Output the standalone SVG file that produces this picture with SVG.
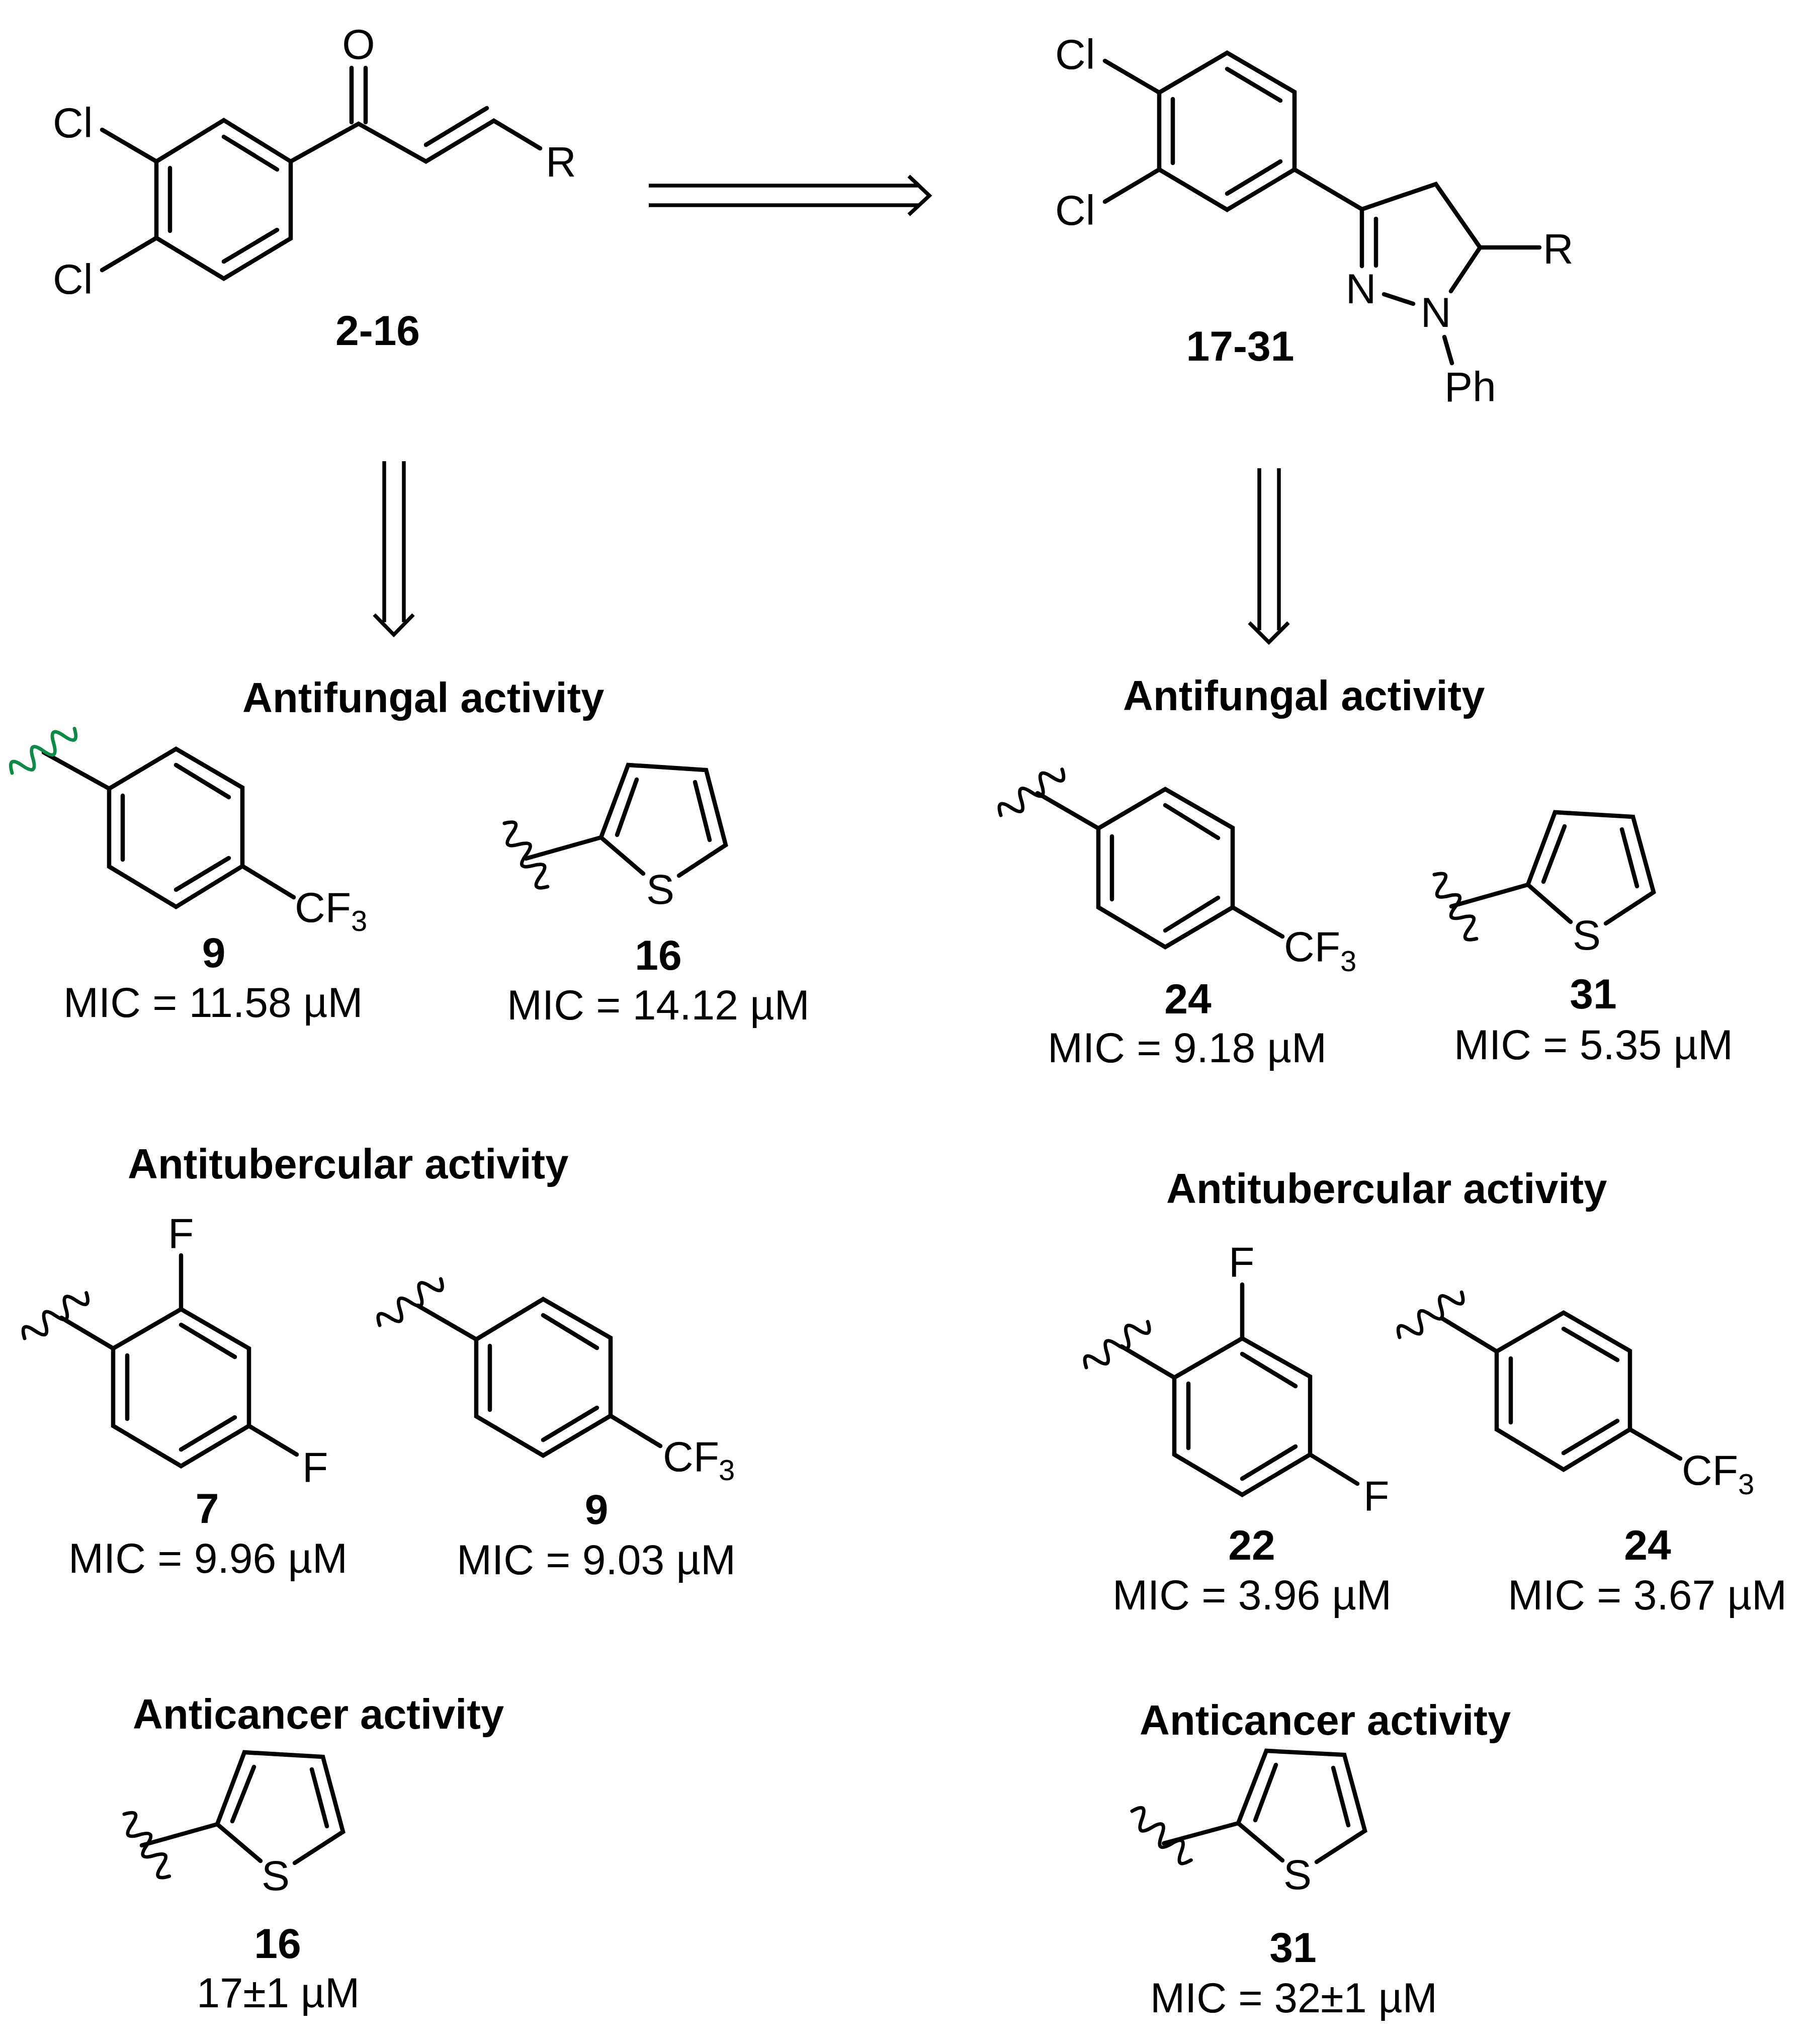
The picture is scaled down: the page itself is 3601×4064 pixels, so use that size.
<svg xmlns="http://www.w3.org/2000/svg" xmlns:xlink="http://www.w3.org/1999/xlink" width="3601" height="4064" viewBox="0 0 3601 4064">
<style>
text{font-family:"Liberation Sans",Arial,sans-serif;font-size:84px;fill:#000}
.h,.n{font-weight:bold}
.h{font-size:83px}
.n,.c{text-anchor:middle}
.s{font-size:58px}
.p{font-size:83px}
.b{fill:none;stroke:#000;stroke-width:8.5;stroke-linecap:round;stroke-linejoin:miter}
.a{fill:none;stroke:#000;stroke-width:7.5;stroke-linecap:butt;stroke-linejoin:miter}
.w{fill:none;stroke:#000;stroke-width:7;stroke-linecap:round}
.g{stroke:#0f8a46}
</style>
<defs>
<path id="wave" d="M0,0 q12.7,-36 25.4,0 t25.4,0 t25.4,0 t25.4,0 t25.4,0 t25.4,0"/>
</defs>
<rect width="3601" height="4064" fill="#fff"/>
<g id="connectors">
<path class="a" d="M1290,369H1829M1290,408H1829M1807,350L1848,389L1807,427"/>
<path class="a" d="M764,917V1237M803,917V1237M744,1222L783,1262L822,1222"/>
<path class="a" d="M2504,931V1253M2543,931V1253M2484,1238L2523,1277L2562,1238"/>
</g>
<g id="compound-2-16">
<path class="b" d="M311,321L445,239L578,321V474L445,554L311,473ZM338,334V459M445,272L551,337M445,520L551,457M203,258L311,321M203,537L311,473M578,321L713,246L847,321L982,240L1074,295M847,288L968,215M699,135V243M727,135V243"/>
<text x="105" y="273">Cl</text><text x="105" y="584">Cl</text>
<text class="c" x="713" y="117">O</text><text x="1085" y="351">R</text>
<text class="n" x="751" y="686">2-16</text>
</g>
<g id="compound-17-31">
<path class="b" d="M2305,184L2440,105L2574,183V337L2440,417L2305,337ZM2332,197V324M2440,137L2546,200M2440,385L2546,321M2197,121L2305,184M2197,401L2305,337M2574,337L2708,416L2855,366L2943,492L2885,579M2708,416V529M2736,435V528M2752,585L2810,604M2872,670L2887,722M2943,492H3061"/>
<text x="2098" y="137">Cl</text><text x="2098" y="447">Cl</text>
<text class="c" x="2706" y="603">N</text><text class="c" x="2855" y="650">N</text>
<text x="2872" y="798">Ph</text><text x="3068" y="524">R</text>
<text class="n" x="2466" y="717">17-31</text>
</g>
<g id="fungal-left">
<text class="h" x="482" y="1416">Antifungal activity</text>
<g id="fungal-9">
<path class="b" d="M217,1568L350,1489L482,1566V1722L350,1803L217,1723ZM244,1582V1709M350,1521L455,1585M350,1769L455,1706M217,1568L87,1496M482,1722L584,1784"/>
<use href="#wave" class="w g" transform="translate(24,1537) rotate(-35.5)"/>
<text x="586" y="1833">CF</text><text class="s" x="698" y="1851">3</text>
<text class="n" x="425" y="1923">9</text>
<text x="126" y="2022">MIC = 11.58 µM</text>
</g>
<g id="fungal-16">
<path class="b" d="M1279,1737L1195,1665L1249,1521L1404,1531L1443,1680L1350,1741M1227,1660L1266,1550M1411,1670L1382,1555M1195,1665L1046,1707"/>
<use href="#wave" class="w" transform="translate(1003,1637) rotate(55.7)"/>
<text class="c" x="1313" y="1797">S</text>
<text class="n" x="1309" y="1928">16</text>
<text x="1008" y="2027">MIC = 14.12 µM</text>
</g>
</g>
<g id="fungal-right">
<text class="h" x="2233" y="1412">Antifungal activity</text>
<g id="fungal-24">
<path class="b" d="M2184,1647L2317,1569L2451,1646V1804L2317,1883L2184,1804ZM2211,1663V1788M2317,1601L2422,1666M2317,1850L2422,1785M2184,1647L2063,1577M2451,1804L2550,1862"/>
<use href="#wave" class="w" transform="translate(1990,1621) rotate(-36.9)"/>
<text x="2553" y="1911">CF</text><text class="s" x="2665" y="1931">3</text>
<text class="n" x="2362" y="2015">24</text>
<text x="2083" y="2112">MIC = 9.18 µM</text>
</g>
<g id="fungal-31">
<path class="b" d="M3123,1833L3038,1759L3092,1615L3247,1624L3288,1774L3193,1836M3069,1753L3111,1643M3255,1762L3225,1649M3038,1759L2886,1802"/>
<use href="#wave" class="w" transform="translate(2852,1739) rotate(56.6)"/>
<text class="c" x="3155" y="1888">S</text>
<text class="n" x="3168" y="2005">31</text>
<text x="2891" y="2106">MIC = 5.35 µM</text>
</g>
</g>
<g id="tuber-left">
<text class="h" x="254" y="2343">Antitubercular activity</text>
<g id="tuber-7">
<path class="b" d="M225,2681L360,2603L495,2681V2835L360,2915L225,2835ZM253,2695V2821M360,2634L467,2698M360,2882L467,2818M360,2603V2496M495,2835L590,2892M225,2681L122,2620"/>
<use href="#wave" class="w" transform="translate(49,2661) rotate(-36.4)"/>
<text x="334" y="2481">F</text><text x="601" y="2946">F</text>
<text class="n" x="412" y="3028">7</text>
<text x="136" y="3127">MIC = 9.96 µM</text>
</g>
<g id="tuber-9">
<path class="b" d="M947,2663L1080,2583L1214,2660V2815L1080,2894L947,2816ZM974,2676V2803M1080,2615L1187,2680M1080,2863L1187,2799M947,2663L831,2596M1214,2815L1313,2875"/>
<use href="#wave" class="w" transform="translate(755,2635) rotate(-37.2)"/>
<text x="1318" y="2925">CF</text><text class="s" x="1429" y="2943">3</text>
<text class="n" x="1186" y="3030">9</text>
<text x="908" y="3130">MIC = 9.03 µM</text>
</g>
</g>
<g id="tuber-right">
<text class="h" x="2319" y="2392">Antitubercular activity</text>
<g id="tuber-22">
<path class="b" d="M2335,2739L2470,2661L2605,2737V2892L2470,2972L2335,2892ZM2363,2751V2879M2470,2692L2576,2756M2470,2940L2576,2876M2470,2661V2554M2605,2892L2699,2950M2335,2739L2230,2677"/>
<use href="#wave" class="w" transform="translate(2160,2719) rotate(-36.7)"/>
<text x="2443" y="2538">F</text><text x="2711" y="3003">F</text>
<text class="n" x="2489" y="3101">22</text>
<text x="2212" y="3200">MIC = 3.96 µM</text>
</g>
<g id="tuber-24">
<path class="b" d="M2976,2687L3109,2610L3241,2686V2842L3109,2922L2976,2842ZM3004,2701V2828M3109,2642L3216,2704M3109,2889L3216,2825M2976,2687L2867,2621M3241,2842L3341,2900"/>
<use href="#wave" class="w" transform="translate(2783,2659) rotate(-36)"/>
<text x="3344" y="2952">CF</text><text class="s" x="3456" y="2971">3</text>
<text class="n" x="3276" y="3101">24</text>
<text x="2998" y="3200">MIC = 3.67 µM</text>
</g>
</g>
<g id="cancer-left">
<text class="h" x="264" y="3437">Anticancer activity</text>
<path class="b" d="M518,3700L432,3627L486,3484L642,3493L682,3642L586,3704M462,3621L505,3513M650,3631L620,3518M432,3627L282,3669"/>
<use href="#wave" class="w" transform="translate(247,3607) rotate(54)"/>
<text class="c" x="548" y="3758">S</text>
<text class="n" x="552" y="3893">16</text>
<text class="c p" x="553" y="3991">17±1 µM</text>
</g>
<g id="cancer-right">
<text class="h" x="2266" y="3449">Anticancer activity</text>
<path class="b" d="M2550,3699L2462,3625L2518,3481L2673,3489L2714,3640L2618,3702M2496,3619L2537,3509M2681,3629L2651,3515M2462,3625L2314,3665"/>
<use href="#wave" class="w" transform="translate(2251,3601) rotate(39.7)"/>
<text class="c" x="2580" y="3756">S</text>
<text class="n" x="2571" y="3901">31</text>
<text class="p" x="2287" y="4001">MIC = 32±1 µM</text>
</g>
</svg>
